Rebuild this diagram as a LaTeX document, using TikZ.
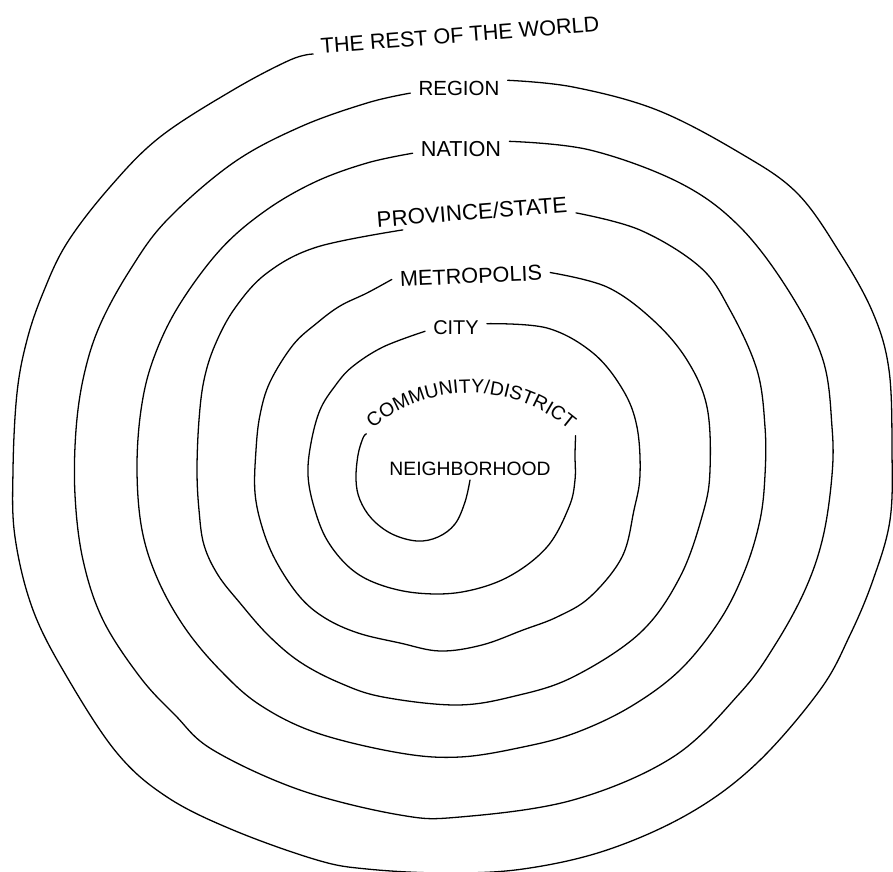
\documentclass[tikz,border=0pt]{standalone}
\usepackage{fontspec}
\newfontfamily\handfont{Liberation Sans}
\usepackage{tikz}
\usetikzlibrary{calc,positioning,decorations.text}
\tikzset{
spiral_line/.style={draw=black, line width=1.1pt, line join=round, line cap=round},
ring_label/.style={inner xsep=2.4mm, inner ysep=1.2mm, text=black, font=\handfont\fontsize{#1}{#1}\selectfont},
ring_label/.default=18
}
\newcommand{\commfont}{\handfont\fontsize{16.5}{16.5}\selectfont}

\begin{document}
\begin{tikzpicture}[x=0.3mm, y=-0.3mm]
    \useasboundingbox (0,0) rectangle (893,872);
    \node[ring_label=18.5, rotate=4.5] (lbl_world) at (460,35) {THE REST OF THE WORLD};
    \node[ring_label=17.5] (lbl_region) at (459,88) {REGION};
    \node[ring_label=18.5] (lbl_nation) at (461,149) {NATION};
    \node[ring_label=19, rotate=4.5] (lbl_prov) at (472,212) {PROVINCE/STATE};
    \node[ring_label=18.5, rotate=2.5] (lbl_metro) at (471,276) {METROPOLIS};
    \node[ring_label=17] (lbl_city) at (456,328) {CITY};
    \node[ring_label=16.5] (lbl_neigh) at (470,469) {NEIGHBORHOOD};
    \coordinate (comm_c) at (470,545);
    \coordinate (comm_l) at ($(comm_c)+(-133:152)$);
    \coordinate (comm_r) at ($(comm_c)+(-46:152)$);
    \path[decorate, decoration={text along path, text align=center, text={|\commfont|COMMUNITY/DISTRICT}}]
        ($(comm_c)+(-134:152)$) arc[start angle=-134, end angle=-45, radius=152];

    \draw[spiral_line] plot[smooth, tension=0.6] coordinates {(lbl_neigh.south) (465,502) (455,524) (438,537) (417,541) (392,534) (372,519) (360,500) (356,480) (358,455) (363,438) (comm_l)};
    \draw[spiral_line] plot[smooth, tension=0.6] coordinates {(comm_r) (575,455) (575,480) (569,507) (547,547) (508,577) (462,592) (417,593) (378,584) (350,568) (327,540) (314,507) (308,475) (311,443) (320,410) (335,386) (352,367) (383,347) (lbl_city.186)};
    \draw[spiral_line] plot[smooth, tension=0.6] coordinates {(lbl_city.8) (547,328) (593,353) (623,390) (637,427) (640,475) (634,510) (622,557) (590,597) (557,617) (523,630) (482,645) (440,651) (400,643) (358,633) (325,618) (300,597) (277,563) (263,530) (255,493) (256,450) (260,415) (270,382) (293,345) (317,323) (340,306) (367,293) (lbl_metro.west)};
    \draw[spiral_line] plot[smooth, tension=0.6] coordinates {(lbl_metro.east) (607,287) (653,320) (687,360) (707,407) (710,470) (703,513) (680,577) (640,633) (573,677) (515,696) (457,705) (383,697) (340,683) (300,662) (268,635) (240,603) (218,575) (204,545) (199,510) (197,470) (199,420) (204,380) (215,345) (235,308) (267,273) (317,247) (lbl_prov.190)};
    \draw[spiral_line] plot[smooth, tension=0.6] coordinates {(lbl_prov.355) (640,230) (700,267) (730,310) (757,370) (765,427) (765,475) (760,520) (745,570) (720,620) (680,670) (630,707) (575,733) (523,747) (460,757) (400,753) (317,733) (260,705) (220,670) (185,628) (158,580) (142,530) (137,470) (141,410) (153,360) (178,307) (220,250) (265,211) (315,182) (367,163) (lbl_nation.185)};
    \draw[spiral_line] plot[smooth, tension=0.6] coordinates {(lbl_nation.9) (590,150) (680,183) (740,227) (790,293) (823,360) (832,427) (832,475) (823,537) (805,590) (775,645) (740,693) (673,757) (573,800) (460,817) (400,815) (300,790) (213,750) (175,715) (140,677) (103,620) (83,560) (75,495) (76,430) (84,375) (100,325) (130,270) (167,220) (233,163) (300,127) (367,103) (lbl_region.186)};
    \draw[spiral_line] plot[smooth, tension=0.6] coordinates {(lbl_region.9) (573,87) (657,110) (740,153) (797,193) (840,253) (873,313) (889,370) (892,450) (890,520) (873,580) (850,635) (820,690) (757,763) (690,813) (607,850) (523,869) (445,873) (367,869) (317,860) (233,830) (167,797) (117,753) (67,677) (33,610) (15,537) (13,470) (17,393) (27,340) (43,293) (67,243) (110,187) (160,137) (233,90) (290,60) (lbl_world.base west)};
\end{tikzpicture}
\end{document}
